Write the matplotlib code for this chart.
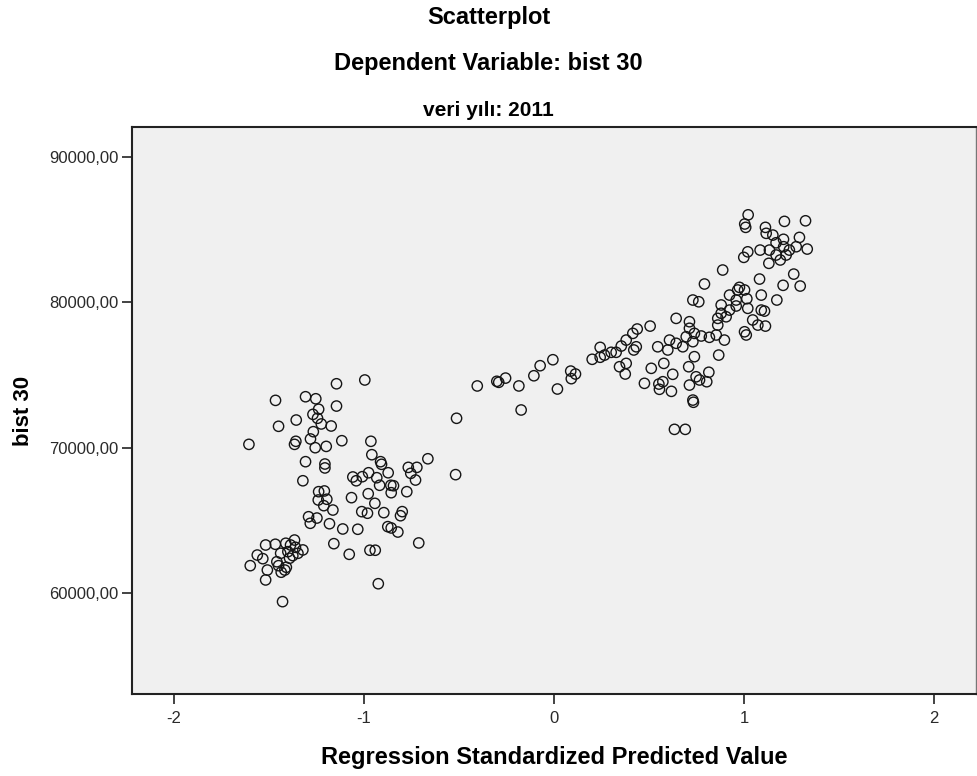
import numpy as np
import matplotlib
matplotlib.use("Agg")
import matplotlib.pyplot as plt

plt.rcParams['font.family'] = ['Liberation Sans', 'DejaVu Sans']

# predicted (standardized) vs observed bist 30, read off the picture
# low cluster (x < -0.5)
low_x = [-1.145, -0.996, -1.466, -1.308, -1.254, -1.239, -1.145, -1.357, -1.269, -1.245,
         -1.225, -1.173, -1.450, -1.267, -1.606, -1.359, -1.366, -1.282, -1.257, -1.199,
         -1.117, -0.964, -1.308, -1.206, -1.206, -1.322, -0.959, -0.913, -0.908, -0.873,
         -0.664, -0.767, -0.722, -0.754, -0.729, -0.518, -1.059, -1.041, -1.009, -0.976,
         -0.933, -0.918, -0.859, -0.845, -0.857, -0.775, -0.978, -1.066, -1.239, -1.209,
         -1.241, -1.196, -1.212, -1.164, -0.943, -1.012, -0.982, -0.896, -0.799, -0.808,
         -1.292, -1.248, -1.283, -1.182, -1.112, -1.033, -0.875, -0.857, -0.822, -0.712,
         -1.159, -1.078, -0.969, -0.941, -0.925, -1.429, -1.518, -1.467, -1.412, -1.366,
         -1.387, -1.361, -1.322, -1.562, -1.533, -1.439, -1.401, -1.375, -1.348, -1.599,
         -1.459, -1.450, -1.409, -1.509, -1.436, -1.417, -1.518, -1.392]
low_y = [74400, 74660, 73260, 73510, 73370, 72650, 72870, 71910, 72300, 72030,
         71640, 71500, 71480, 71110, 70240, 70450, 70240, 70610, 70010, 70100,
         70490, 70450, 69050, 68890, 68620, 67740, 69530, 69050, 68870, 68290,
         69250, 68660, 68660, 68250, 67790, 68160, 68000, 67740, 68020, 68290,
         67950, 67430, 67430, 67400, 66920, 66990, 66850, 66580, 66990, 67040,
         66420, 66470, 66030, 65730, 66190, 65620, 65510, 65550, 65620, 65340,
         65270, 65180, 64820, 64790, 64430, 64410, 64590, 64500, 64220, 63470,
         63420, 62690, 62970, 62970, 60670, 59440, 63330, 63380, 63450, 63670,
         63330, 63170, 62990, 62640, 62390, 62760, 62870, 62600, 62760, 61910,
         62180, 61910, 61800, 61610, 61460, 61610, 60930, 62420]

# middle band (-0.5 .. 0.45)
mid_x = [-0.513, -0.404, -0.301, -0.291, -0.255, -0.185, -0.173, -0.106, -0.073, -0.006,
         0.018, 0.088, 0.091, 0.113, 0.201, 0.243, 0.243, 0.266, 0.301, 0.327,
         0.354, 0.380, 0.415, 0.438, 0.420, 0.433, 0.345, 0.380, 0.375]
mid_y = [72030, 74250, 74570, 74500, 74790, 74250, 72600, 74950, 75640, 76050,
         74040, 75270, 74750, 75070, 76080, 76900, 76220, 76370, 76560, 76560,
         76990, 77400, 77860, 78160, 76720, 76940, 75570, 75800, 75070]

# high cluster (x > 0.45)
high_x = [1.022, 1.004, 1.009, 1.113, 1.213, 1.324, 1.117, 1.152, 1.085, 1.134,
          1.169, 1.208, 1.209, 1.239, 1.292, 1.275, 1.333, 1.222, 1.191, 1.131,
          1.169, 1.020, 0.999, 0.888, 1.082, 1.262, 1.206, 1.296, 0.792, 1.173,
          1.091, 0.976, 0.967, 1.003, 0.924, 1.015, 0.959, 0.731, 0.762, 0.880,
          1.020, 1.091, 1.108, 0.880, 0.924, 0.959, 0.862, 0.906, 0.862, 0.643,
          0.713, 1.046, 1.073, 1.113, 1.003, 1.012, 0.713, 0.739, 0.775, 0.818,
          0.854, 0.897, 0.696, 0.731, 0.608, 0.643, 0.678, 0.546, 0.599, 0.506,
          0.739, 0.867, 0.578, 0.512, 0.625, 0.709, 0.815, 0.748, 0.766, 0.804,
          0.713, 0.476, 0.552, 0.573, 0.555, 0.618, 0.731, 0.734, 0.634, 0.691]
high_y = [86000, 85370, 85140, 85140, 85550, 85590, 84730, 84610, 83580, 83580,
          84080, 84320, 83810, 83580, 84450, 83810, 83650, 83240, 82900, 82670,
          83240, 83460, 83080, 82210, 81590, 81930, 81160, 81110, 81250, 80150,
          80490, 81020, 80840, 80840, 80490, 80240, 80150, 80150, 80030, 79810,
          79580, 79460, 79390, 79240, 79460, 79740, 78890, 79000, 78430, 78890,
          78660, 78780, 78430, 78360, 77970, 77750, 78210, 77860, 77680, 77590,
          77750, 77400, 77630, 77290, 77400, 77180, 76940, 76940, 76720, 78360,
          76260, 76370, 75800, 75460, 75050, 75570, 75190, 74880, 74660, 74540,
          74310, 74430, 74380, 74540, 74020, 73880, 73280, 73130, 71270, 71270]

x_ticks = [-2, -1, 0, 1, 2]
y_ticks = [60000, 70000, 80000, 90000]
y_tick_labels = ["60000,00", "70000,00", "80000,00", "90000,00"]

fig = plt.figure(figsize=(9.77, 7.76), dpi=100)
ax = fig.add_axes([0.1354, 0.1057, 0.8633, 0.7310])
ax.set_facecolor('#f0f0f0')

xs = low_x + mid_x + high_x
ys = low_y + mid_y + high_y
ax.scatter(xs, ys, s=55, facecolors='none', edgecolors='#151515', linewidths=1.0)

ax.set_xlim(-2.22, 2.22)
ax.set_ylim(53100, 92050)
ax.set_xticks(x_ticks)
ax.set_xticklabels([str(t) for t in x_ticks])
ax.set_yticks(y_ticks)
ax.set_yticklabels(y_tick_labels)
ax.tick_params(axis='both', direction='out', length=7, width=1.2, color='#222222',
               labelsize=12, labelcolor='#2a2a2a')
ax.tick_params(axis='x', pad=5)
ax.tick_params(axis='y', pad=3)

for side in ['left', 'bottom', 'top']:
    ax.spines[side].set_color('#222222')
    ax.spines[side].set_linewidth(1.5)
ax.spines['right'].set_color('#777777')
ax.spines['right'].set_linewidth(1.0)

fig.text(0.5, 0.978, "Scatterplot", ha='center', va='center', fontsize=17, fontweight='bold')
fig.text(0.5, 0.918, "Dependent Variable: bist 30", ha='center', va='center', fontsize=17, fontweight='bold')
fig.text(0.5, 0.858, "veri yılı: 2011", ha='center', va='center', fontsize=15, fontweight='bold')
fig.text(0.567, 0.024, "Regression Standardized Predicted Value", ha='center', va='center',
         fontsize=17, fontweight='bold')
fig.text(0.024, 0.471, "bist 30", ha='center', va='center', rotation=90, fontsize=16, fontweight='bold')

plt.savefig("out.png", dpi=100)
